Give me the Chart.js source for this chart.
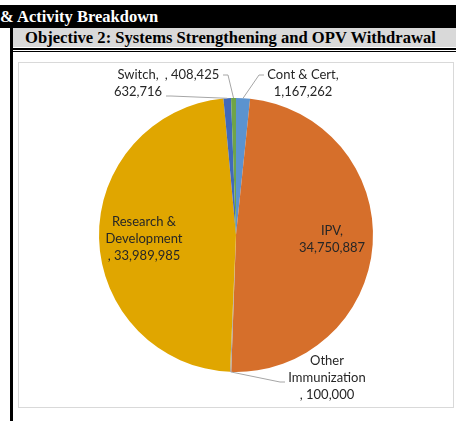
<!DOCTYPE html>
<html>
<head>
<meta charset="utf-8">
<script src="https://cdn.jsdelivr.net/npm/chart.js@4.4.1/dist/chart.umd.min.js"></script>
<style>
  html, body { margin: 0; padding: 0; background: #fff; }
  body { width: 456px; height: 421px; position: relative; overflow: hidden; }
  .topbar {
    position: absolute; left: 0; top: 5px; width: 456px; height: 23px;
    background: #000; color: #fff; white-space: nowrap;
    font: bold 16.5px "Liberation Serif", "Times New Roman", serif; line-height: 23px;
  }
  .vline { position: absolute; left: 10px; top: 28px; width: 3px; height: 393px; background: #000; }
  .objective {
    position: absolute; left: 13px; top: 28px; width: 443px; height: 19px;
    background: #d9d9d9; color: #000; white-space: nowrap; box-sizing: border-box; padding-left: 12px;
    font: bold 16.6px "Liberation Serif", "Times New Roman", serif; line-height: 20px;
  }
  .dbl1 { position: absolute; left: 13px; top: 48px; width: 443px; height: 2px; background: #000; }
  .dbl2 { position: absolute; left: 13px; top: 51px; width: 443px; height: 1px; background: #000; }
  .box { position: absolute; left: 18px; top: 62px; width: 434px; height: 344px; border: 1px solid #d9d9d9; }
  .box canvas { display: block; }
</style>
</head>
<body>
<div class="topbar">&amp; Activity Breakdown</div>
<div class="vline"></div>
<div class="objective">Objective 2: Systems Strengthening and OPV Withdrawal</div>
<div class="dbl1"></div>
<div class="dbl2"></div>
<div class="box"><canvas id="objPie" width="434" height="344"></canvas></div>

<script>
// slices, clockwise from 12 o'clock
const categories = ['Cont & Cert', 'IPV', 'Other\nImmunization', 'Research &\nDevelopment', 'Switch', ''];
const values = [1167262, 34750887, 100000, 33989985, 632716, 408425];
const colors = ['#5b93cf', '#d66f2b', '#a5a5a5', '#e0a600', '#4169b9', '#6fa448'];

// label placement relative to the pie centre, plus leader end relative to the label
const labelPlace = [
  { dx: 67, dy: -152, join: 'name', leader: [-39, -8] },
  { dx: 96, dy: 4.5, join: 'name' },
  { dx: 91, dy: 143, join: 'value', leader: [-42, 4] },
  { dx: -92, dy: 4, join: 'value' },
  { dx: -98, dy: -152, join: 'name', leader: [28, 13] },
  { dx: -44, dy: -160, join: 'value', leader: [31, 0] }
];

const fmt = v => v.toLocaleString('en-US');

function labelLines(i) {
  const name = categories[i] ? categories[i].split('\n') : [];
  if (labelPlace[i].join === 'name' && name.length) {
    name[name.length - 1] += ',';
    return name.concat([fmt(values[i])]);
  }
  return name.concat([', ' + fmt(values[i])]);
}

const sliceLabels = {
  id: 'sliceLabels',
  afterDatasetsDraw(chart, args, opts) {
    const { ctx } = chart;
    const meta = chart.getDatasetMeta(0);
    ctx.save();
    ctx.font = opts.font;
    ctx.textAlign = 'center';
    ctx.textBaseline = 'middle';
    meta.data.forEach((arc, i) => {
      const p = labelPlace[i];
      const lines = labelLines(i);
      const cx = arc.x + p.dx, cy = arc.y + p.dy;
      const top = cy - (lines.length - 1) * opts.lineHeight / 2;
      if (p.leader) {
        const mid = (arc.startAngle + arc.endAngle) / 2;
        const sx = arc.x + Math.cos(mid) * arc.outerRadius;
        const sy = arc.y + Math.sin(mid) * arc.outerRadius;
        const ex = cx + p.leader[0], ey = cy + p.leader[1];
        const elbow = ex + (sx > ex ? 5 : -5);
        ctx.strokeStyle = opts.leaderColor;
        ctx.lineWidth = 1;
        ctx.beginPath();
        ctx.moveTo(ex, ey);
        ctx.lineTo(elbow, ey);
        ctx.lineTo(sx, sy);
        ctx.stroke();
      }
      ctx.fillStyle = opts.color;
      lines.forEach((t, k) => ctx.fillText(t, cx, top + k * opts.lineHeight));
    });
    ctx.restore();
  }
};

new Chart(document.getElementById('objPie').getContext('2d'), {
  type: 'pie',
  data: {
    labels: categories,
    datasets: [{
      data: values,
      backgroundColor: colors,
      borderWidth: 0
    }]
  },
  options: {
    responsive: false,
    animation: false,
    layout: { padding: { top: 35, bottom: 35 } },
    plugins: {
      legend: { display: false },
      tooltip: { enabled: false },
      sliceLabels: {
        font: '13px Lato, "Open Sans", sans-serif',
        color: '#262626',
        leaderColor: '#a6a6a6',
        lineHeight: 17
      }
    }
  },
  plugins: [sliceLabels]
});
</script>
</body>
</html>
